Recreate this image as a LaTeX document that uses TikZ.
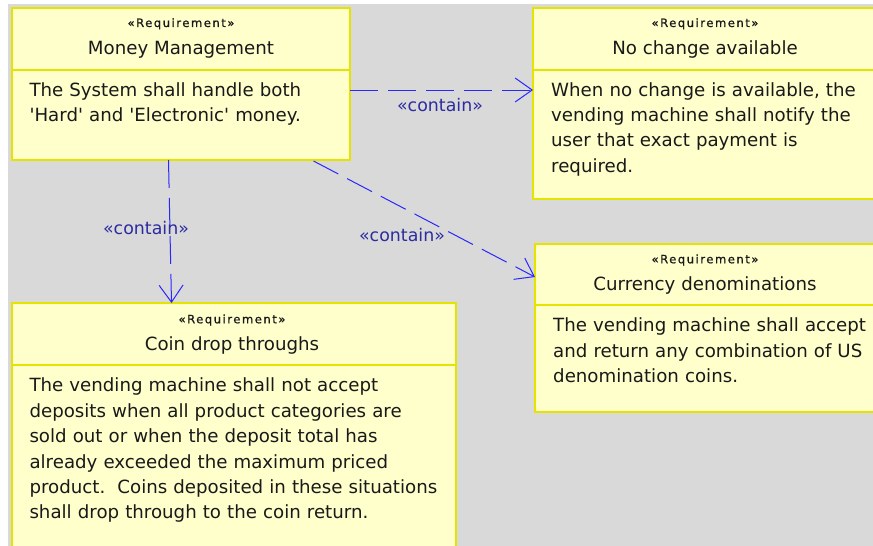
\documentclass[tikz,border=0pt]{standalone}
\usepackage{fontspec}
\setmainfont[Ligatures=TeXOff]{DejaVu Sans}
\newfontfamily\stereofont[LetterSpace=13,FakeBold=0.8]{DejaVu Sans}
\usetikzlibrary{arrows.meta}
\definecolor{reqfill}{RGB}{255,255,204}
\definecolor{reqborder}{RGB}{228,228,0}
\definecolor{canvas}{RGB}{217,217,217}
\definecolor{linkblue}{RGB}{40,40,255}
\definecolor{labelblue}{RGB}{44,44,160}
\definecolor{ink}{RGB}{25,25,25}

\begin{document}
\begin{tikzpicture}[x=1pt,y=-1pt,
  reqbox/.style={draw=reqborder,fill=reqfill,line width=2pt,inner sep=0,outer sep=0,anchor=north west},
  reqsep/.style={draw=reqborder,line width=2pt},
  stereo/.style={anchor=base,inner sep=0,text=ink,font=\stereofont\fontsize{11.6}{13}\selectfont},
  reqtitle/.style={anchor=base,inner sep=0,text=ink,font=\fontsize{18.2}{22}\selectfont},
  reqbody/.style={anchor=north west,inner sep=0,text=ink,align=left,text width=440pt,font=\fontsize{18.2}{25.4}\selectfont},
  contain/.style={draw=linkblue,line width=1pt,dash pattern=on 28pt off 10pt,
    -{Straight Barb[length=17pt,width=24pt,line width=1pt]}},
  containlabel/.style={inner sep=0,text=labelblue,font=\fontsize{17.4}{20}\selectfont}]

\useasboundingbox (0,0) rectangle (873,546);
\clip (0,0) rectangle (873,546);
\fill[white] (0,0) rectangle (873,546);
\fill[canvas] (8,4) rectangle (873,546);

% requirement boxes
\node[reqbox,minimum width=338pt,minimum height=152pt] (mm) at (12,8) {};
\node[reqbox,minimum width=344pt,minimum height=191pt] (nc) at (533,8) {};
\node[reqbox,minimum width=342pt,minimum height=168pt] (cur) at (535,244) {};
\node[reqbox,minimum width=444pt,minimum height=260pt] (cd) at (12,303) {};

% compartment dividers
\draw[reqsep] (mm.west |- 0,70) -- (mm.east |- 0,70);
\draw[reqsep] (nc.west |- 0,70) -- (nc.east |- 0,70);
\draw[reqsep] (cur.west |- 0,305) -- (cur.east |- 0,305);
\draw[reqsep] (cd.west |- 0,365) -- (cd.east |- 0,365);

% Money Management
\node[stereo] (mmStereo) at (181,27) {«Requirement»};
\node[reqtitle] (mmTitle) at (181,54) {Money Management};
\node[reqbody] (mmBody) at (29.3,78.2) {\strut The System shall handle both\\'Hard' and 'Electronic' money.};

% No change available
\node[stereo] (ncStereo) at (705,27) {«Requirement»};
\node[reqtitle] (ncTitle) at (705,54) {No change available};
\node[reqbody] (ncBody) at (551,78.2) {\strut When no change is available, the\\vending machine shall notify the\\user that exact payment is\\required.};

% Currency denominations
\node[stereo] (curStereo) at (705,263.3) {«Requirement»};
\node[reqtitle] (curTitle) at (705,290) {Currency denominations};
\node[reqbody] (curBody) at (553,313.9) {\strut The vending machine shall accept\\and return any combination of US\\denomination coins.};

% Coin drop throughs
\node[stereo] (cdStereo) at (232,323.3) {«Requirement»};
\node[reqtitle] (cdTitle) at (232,350) {Coin drop throughs};
\node[reqbody] (cdBody) at (29.3,373.9) {\strut The vending machine shall not accept\\deposits when all product categories are\\sold out or when the deposit total has\\already exceeded the maximum priced\\product.\ \ Coins deposited in these situations\\shall drop through to the coin return.};

% containment relations
\draw[contain] ([yshift=-6pt]mm.east) -- ([yshift=-6pt]mm.east -| nc.west);
\draw[contain] ([xshift=-12.5pt]mm.south) -- ([xshift=-62.5pt]cd.north);
\draw[contain] ([xshift=132.5pt,yshift=-1pt]mm.south) -- ([yshift=51pt]cur.west);

\node[containlabel] (lblNc) at (440,105) {«contain»};
\node[containlabel] (lblCd) at (146,228) {«contain»};
\node[containlabel] (lblCur) at (402,235) {«contain»};
\end{tikzpicture}
\end{document}
